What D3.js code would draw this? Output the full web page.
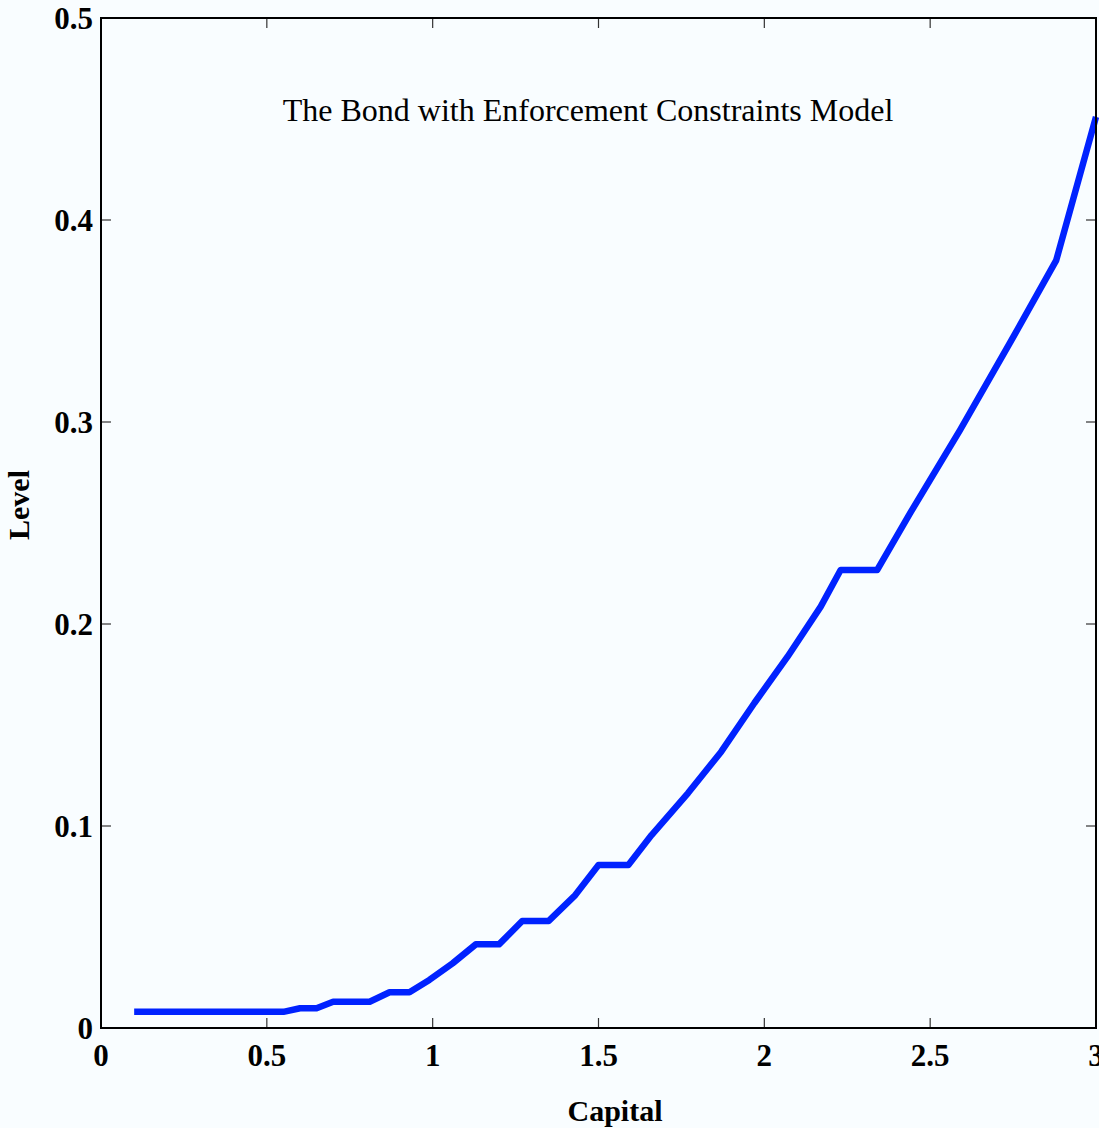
<!DOCTYPE html>
<html>
<head>
<meta charset="utf-8">
<script src="https://cdn.jsdelivr.net/npm/d3@7/dist/d3.min.js"></script>
<style>
  html, body { margin: 0; padding: 0; background: #f9fdff; }
  svg { display: block; }
  .tick-label { font-family: "Liberation Serif", "Times New Roman", serif; font-weight: bold; font-size: 31px; fill: #000; }
  .axis-title { font-family: "Liberation Serif", "Times New Roman", serif; font-weight: bold; font-size: 30px; fill: #000; }
  .chart-title { font-family: "Liberation Serif", "Times New Roman", serif; font-size: 32px; fill: #000; }
</style>
</head>
<body>
<svg id="chart" width="1099" height="1128"></svg>
<script>
// Capital grid and the corresponding level of the policy function
const capital = [0.1, 0.55, 0.6, 0.65, 0.7, 0.81, 0.87, 0.93, 0.99, 1.06, 1.13, 1.2, 1.27, 1.35,
                 1.43, 1.5, 1.59, 1.66, 1.77, 1.87, 1.97, 2.07, 2.17, 2.23, 2.34, 2.44, 2.59, 2.74, 2.88, 3.0];
const level = [0.008, 0.008, 0.0098, 0.0098, 0.013, 0.013, 0.0177, 0.0177, 0.0238, 0.032, 0.0414, 0.0414,
               0.053, 0.053, 0.0658, 0.0807, 0.0807, 0.0955, 0.1163, 0.1368, 0.1609, 0.1838, 0.2086,
               0.2267, 0.2267, 0.255, 0.296, 0.339, 0.380, 0.451];

const xTicks = [0, 0.5, 1, 1.5, 2, 2.5, 3];
const xTickLabels = ["0", "0.5", "1", "1.5", "2", "2.5", "3"];
const yTicks = [0, 0.1, 0.2, 0.3, 0.4, 0.5];
const yTickLabels = ["0", "0.1", "0.2", "0.3", "0.4", "0.5"];

const titleText = "The Bond with Enforcement Constraints Model";
const xTitle = "Capital";
const yTitle = "Level";

const margin = { left: 101, top: 18, right: 1096, bottom: 1028 };
const svg = d3.select("#chart");

const x = d3.scaleLinear().domain([0, 3]).range([margin.left, margin.right]);
const y = d3.scaleLinear().domain([0, 0.5]).range([margin.bottom, margin.top]);

const tickLen = 10;

// Inward tick marks on all four sides
const gTicks = svg.append("g").attr("stroke", "#333").attr("stroke-width", 1.2);
gTicks.selectAll("line.xb").data(xTicks).join("line")
  .attr("x1", d => x(d)).attr("x2", d => x(d))
  .attr("y1", margin.bottom).attr("y2", margin.bottom - tickLen);
gTicks.selectAll("line.xt").data(xTicks).join("line")
  .attr("x1", d => x(d)).attr("x2", d => x(d))
  .attr("y1", margin.top).attr("y2", margin.top + tickLen);
gTicks.selectAll("line.yl").data(yTicks).join("line")
  .attr("y1", d => y(d)).attr("y2", d => y(d))
  .attr("x1", margin.left).attr("x2", margin.left + tickLen);
gTicks.selectAll("line.yr").data(yTicks).join("line")
  .attr("y1", d => y(d)).attr("y2", d => y(d))
  .attr("x1", margin.right).attr("x2", margin.right - tickLen);

// Tick labels
svg.append("g").selectAll("text").data(xTicks).join("text")
  .attr("class", "tick-label")
  .attr("x", d => x(d)).attr("y", 1066)
  .attr("text-anchor", "middle")
  .text((d, i) => xTickLabels[i]);

svg.append("g").selectAll("text").data(yTicks).join("text")
  .attr("class", "tick-label")
  .attr("x", 93).attr("y", d => y(d))
  .attr("dy", "0.34em")
  .attr("text-anchor", "end")
  .text((d, i) => yTickLabels[i]);

// Data line
const line = d3.line().x((d, i) => x(capital[i])).y(d => y(d));
svg.append("path")
  .datum(level)
  .attr("d", line)
  .attr("fill", "none")
  .attr("stroke", "#0022ff")
  .attr("stroke-width", 6.5)
  .attr("stroke-linejoin", "round");

// Plot frame
svg.append("rect")
  .attr("x", margin.left).attr("y", margin.top)
  .attr("width", margin.right - margin.left)
  .attr("height", margin.bottom - margin.top)
  .attr("fill", "none").attr("stroke", "#000").attr("stroke-width", 2);

// Titles
svg.append("text").attr("class", "chart-title")
  .attr("x", 588).attr("y", 121).attr("text-anchor", "middle")
  .text(titleText);

svg.append("text").attr("class", "axis-title")
  .attr("x", 615).attr("y", 1121).attr("text-anchor", "middle")
  .text(xTitle);

svg.append("text").attr("class", "axis-title")
  .attr("transform", "translate(29,505) rotate(-90)")
  .attr("text-anchor", "middle")
  .text(yTitle);
</script>
</body>
</html>
